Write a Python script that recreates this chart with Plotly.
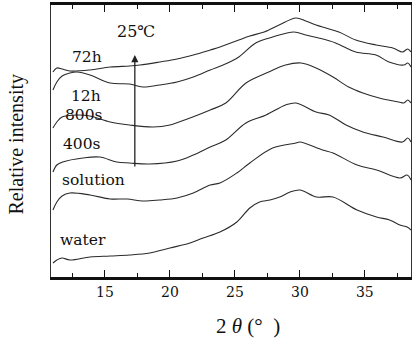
import plotly.graph_objects as go

# 2theta (deg) and relative intensity (arb. units)
x_72h = [11.0, 11.3, 11.7, 12.3, 13.85, 15.4, 16.9, 17.7, 19.2, 20.55, 21.8, 23.1, 23.85, 25.3, 26.15, 27.25, 28.4, 29.7, 30.45, 31.25, 32.0, 33.0, 34.3, 35.85, 37.15, 37.9, 38.15, 38.3, 38.55]
y_72h = [205, 209, 208, 206, 207, 210, 211, 212, 215, 218, 222, 227, 230, 237, 241, 245, 252, 259, 256, 252, 249, 245, 237, 232, 229, 225, 227, 228, 225]

x_12h = [11.0, 11.3, 11.7, 12.3, 12.85, 13.85, 15.4, 16.9, 17.9, 19.2, 20.55, 21.8, 23.1, 24.1, 25.3, 26.6, 27.9, 29.55, 30.45, 31.45, 32.75, 34.3, 35.85, 36.85, 38.0, 38.3, 38.55]
y_12h = [187, 195, 201, 204, 205, 202, 194, 193, 190, 192, 195, 200, 207, 212, 220, 234, 240, 245, 242, 239, 234, 225, 222, 215, 212, 214, 210]

x_800s = [11.0, 11.3, 11.7, 12.85, 13.85, 15.4, 16.9, 18.7, 20.0, 21.55, 23.1, 24.3, 25.85, 27.6, 28.9, 30.1, 31.25, 32.55, 33.75, 34.85, 36.1, 37.6, 38.0, 38.3, 38.55]
y_800s = [149, 155, 160, 162, 161, 155, 152, 150, 152, 159, 167, 174, 194, 205, 212, 214, 209, 200, 190, 184, 179, 175, 174, 177, 174]

x_400s = [11.0, 11.3, 11.75, 13.3, 14.6, 15.9, 16.9, 18.45, 20.55, 21.8, 23.1, 24.3, 25.85, 27.4, 28.9, 29.7, 31.25, 32.25, 33.55, 34.85, 36.4, 37.9, 38.3, 38.55]
y_400s = [105, 112, 115, 119, 120, 115, 114, 113, 116, 122, 130, 137, 154, 162, 172, 174, 165, 162, 152, 145, 140, 135, 139, 135]

x_sol = [11.0, 11.3, 11.7, 12.3, 13.85, 15.4, 16.7, 17.9, 19.2, 20.55, 21.8, 23.1, 23.85, 25.15, 26.15, 27.9, 29.7, 30.0, 31.75, 32.55, 34.4, 35.9, 37.7, 38.25, 38.55]
y_sol = [67, 75, 81, 84, 82, 78, 78, 76, 77, 79, 84, 92, 94, 104, 114, 129, 134, 135, 127, 124, 112, 107, 99, 102, 97]

x_water = [11.0, 11.3, 11.7, 12.3, 13.85, 15.4, 16.9, 18.45, 20.0, 21.55, 22.55, 23.85, 25.15, 26.15, 26.9, 27.7, 28.45, 29.25, 30.0, 31.3, 32.55, 34.4, 35.9, 36.9, 37.7, 38.25, 38.55]
y_water = [14, 17, 19, 17, 20, 21, 22, 24, 29, 34, 39, 45, 55, 69, 75, 77, 80, 85, 87, 80, 80, 67, 60, 57, 52, 50, 47]

series = [
    ("72h", x_72h, y_72h),
    ("12h", x_12h, y_12h),
    ("800s", x_800s, y_800s),
    ("400s", x_400s, y_400s),
    ("solution", x_sol, y_sol),
    ("water", x_water, y_water),
]

# label positions (2theta, intensity)
label_names = ["72h", "12h", "800s", "400s", "solution", "water"]
label_x = [13.6, 13.55, 13.4, 13.25, 14.1, 13.3]
label_y = [220, 181, 162, 133, 97, 37]

temp_text = "25℃"
arrow_x = 17.3
arrow_from = 109
arrow_to = 222

x_ticks = [15, 20, 25, 30, 35]

fig = go.Figure()
for name, xs, ys in series:
    fig.add_trace(go.Scatter(x=xs, y=ys, mode="lines", name=name,
                             line=dict(color="#2b2b2b", width=1.1, shape="spline", smoothing=1.0),
                             showlegend=False, hoverinfo="skip"))

serif = "DejaVu Serif"
for t, lx, ly in zip(label_names, label_x, label_y):
    fig.add_annotation(x=lx, y=ly, text=t, showarrow=False, borderpad=0,
                       font=dict(family=serif, size=15.5, color="#111"))

fig.add_annotation(x=17.4, y=246, text=temp_text, showarrow=False,
                   font=dict(family=serif, size=16, color="#111"))

fig.add_annotation(x=arrow_x, y=arrow_to, ax=arrow_x, ay=arrow_from,
                   xref="x", yref="y", axref="x", ayref="y",
                   text="", showarrow=True, arrowhead=2, arrowsize=1.1,
                   arrowwidth=1.3, arrowcolor="#222")

fig.add_annotation(xref="paper", yref="paper", x=-0.095, y=0.49,
                   xanchor="center", yanchor="middle", textangle=-90,
                   text="Relative intensity", showarrow=False,
                   font=dict(family="Liberation Serif", size=20, color="#111"))

fig.add_annotation(xref="paper", yref="paper", x=0.547, y=-0.18,
                   xanchor="center", yanchor="middle",
                   text="2 <i>θ</i> (°  )", showarrow=False,
                   font=dict(family="Liberation Serif", size=21, color="#111"))

fig.update_layout(
    width=412, height=340,
    margin=dict(l=51, r=1, t=5, b=63),
    paper_bgcolor="white", plot_bgcolor="white",
    xaxis=dict(range=[10.85, 38.55], tickvals=x_ticks, ticks="inside", ticklen=7,
               tickwidth=1.3, tickcolor="#111", showline=True, linewidth=2.5,
               linecolor="#111", mirror="ticks", showgrid=False, zeroline=False,
               tickfont=dict(family=serif, size=14, color="#111"),
               minor=dict(dtick=2.5, tick0=0, ticks="inside", ticklen=4,
                          tickwidth=1.2, tickcolor="#111", showgrid=False)),
    yaxis=dict(range=[0, 272], showticklabels=False, ticks="", showline=True,
               linewidth=1, linecolor="#333", mirror=True, showgrid=False,
               zeroline=False),
)

fig.write_html("out.html")
